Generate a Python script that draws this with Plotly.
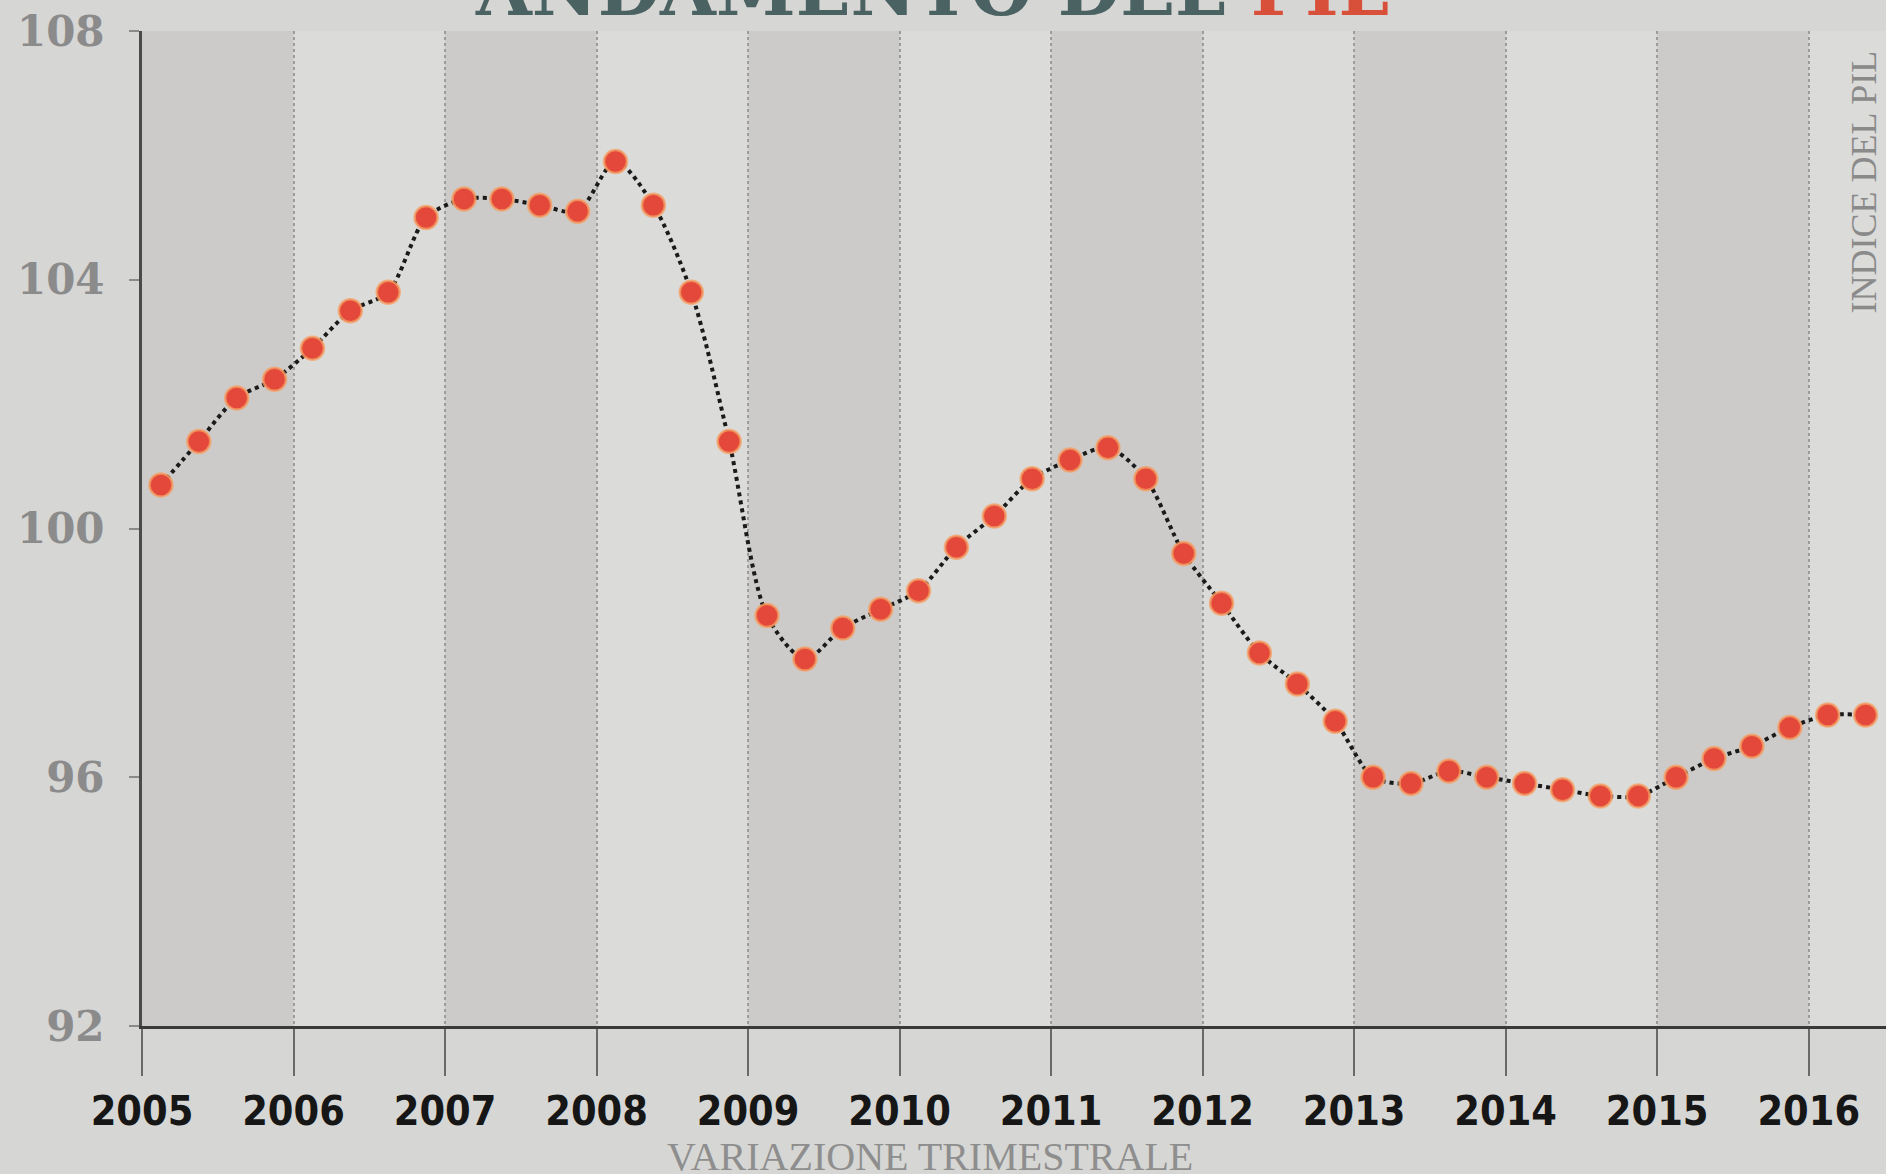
import plotly.graph_objects as go

# Indice del PIL, dati trimestrali 2005-2016
anni = [2005, 2006, 2007, 2008, 2009, 2010, 2011, 2012, 2013, 2014, 2015, 2016]
trimestri = ["T1", "T2", "T3", "T4"]
etichette_anni = ["2005", "2006", "2007", "2008", "2009", "2010", "2011",
                  "2012", "2013", "2014", "2015", "2016"]
pil = [
    100.7, 101.4, 102.1, 102.4,   # 2005
    102.9, 103.5, 103.8, 105.0,   # 2006
    105.3, 105.3, 105.2, 105.1,   # 2007
    105.9, 105.2, 103.8, 101.4,   # 2008
    98.6, 97.9, 98.4, 98.7,       # 2009
    99.0, 99.7, 100.2, 100.8,     # 2010
    101.1, 101.3, 100.8, 99.6,    # 2011
    98.8, 98.0, 97.5, 96.9,       # 2012
    96.0, 95.9, 96.1, 96.0,       # 2013
    95.9, 95.8, 95.7, 95.7,       # 2014
    96.0, 96.3, 96.5, 96.8,       # 2015
    97.0, 97.0,                   # 2016
]
y_ticks = [92, 96, 100, 104, 108]

# each quarter sits at the middle of its slot within the year
periodi = [(a, t) for a in anni for t in range(4)][:len(pil)]
x_pos = [a + (t + 0.5) / 4 for a, t in periodi]
testo_hover = [f"{a} {trimestri[t]}" for a, t in periodi]

fig = go.Figure()

fig.add_trace(go.Scatter(
    x=x_pos,
    y=pil,
    text=testo_hover,
    mode="lines+markers",
    line=dict(color="#1a1a1a", width=4, dash="dot", shape="spline", smoothing=0.8),
    marker=dict(size=23, color="#e3483a",
                line=dict(color="rgba(246,160,100,0.75)", width=2.5)),
    hovertemplate="%{text}: %{y}<extra></extra>",
))

# alternating year columns
for a in anni:
    if (a - anni[0]) % 2 == 0:
        fig.add_shape(type="rect", xref="x", yref="paper",
                      x0=a, x1=a + 1, y0=0, y1=1,
                      fillcolor="#cccbca", line_width=0, layer="below")

fig.update_xaxes(
    range=[2005, 2016.51],
    tickvals=anni,
    ticktext=etichette_anni,
    ticks="outside",
    ticklen=47,
    tickwidth=2,
    tickcolor="#6a6a6a",
    tickfont=dict(family="DejaVu Sans Condensed, Liberation Sans", size=41,
                  color="#161616", weight="bold"),
    showline=True,
    linecolor="#3a3a3a",
    linewidth=3,
    showgrid=True,
    gridcolor="#9c9c9c",
    gridwidth=2,
    griddash="dot",
    zeroline=False,
    fixedrange=True,
)

fig.update_yaxes(
    range=[92, 108],
    tickvals=y_ticks,
    ticks="outside",
    ticklen=10,
    tickwidth=2,
    tickcolor="#8a8a8a",
    tickfont=dict(family="DejaVu Serif", size=42, color="#8b8b8b", weight="bold"),
    ticklabelstandoff=16,
    showline=True,
    linecolor="#4a4a4a",
    linewidth=3,
    showgrid=False,
    zeroline=False,
    fixedrange=True,
)

fig.update_layout(
    width=1886,
    height=1174,
    margin=dict(l=142, r=0, t=31, b=148),
    paper_bgcolor="#d6d6d4",
    plot_bgcolor="#dbdbd9",
    showlegend=False,
    annotations=[
        dict(text="ANDAMENTO DEL <span style='color:#d8503a'>PIL</span>",
             xref="paper", yref="paper", x=0.453, y=1.042,
             xanchor="center", yanchor="middle", showarrow=False,
             font=dict(family="DejaVu Serif", size=72, color="#4b6262", weight="bold")),
        dict(text="INDICE DEL PIL",
             xref="paper", yref="paper", x=0.9875, y=0.848,
             xanchor="center", yanchor="middle", showarrow=False, textangle=-90,
             font=dict(family="Liberation Serif", size=36, color="#8a8a8a")),
        dict(text="VARIAZIONE TRIMESTRALE",
             xref="paper", yref="paper", x=0.452, y=-0.1307,
             xanchor="center", yanchor="middle", showarrow=False,
             font=dict(family="Liberation Serif", size=40, color="#8e8e8e")),
    ],
)

fig.write_html("out.html")
